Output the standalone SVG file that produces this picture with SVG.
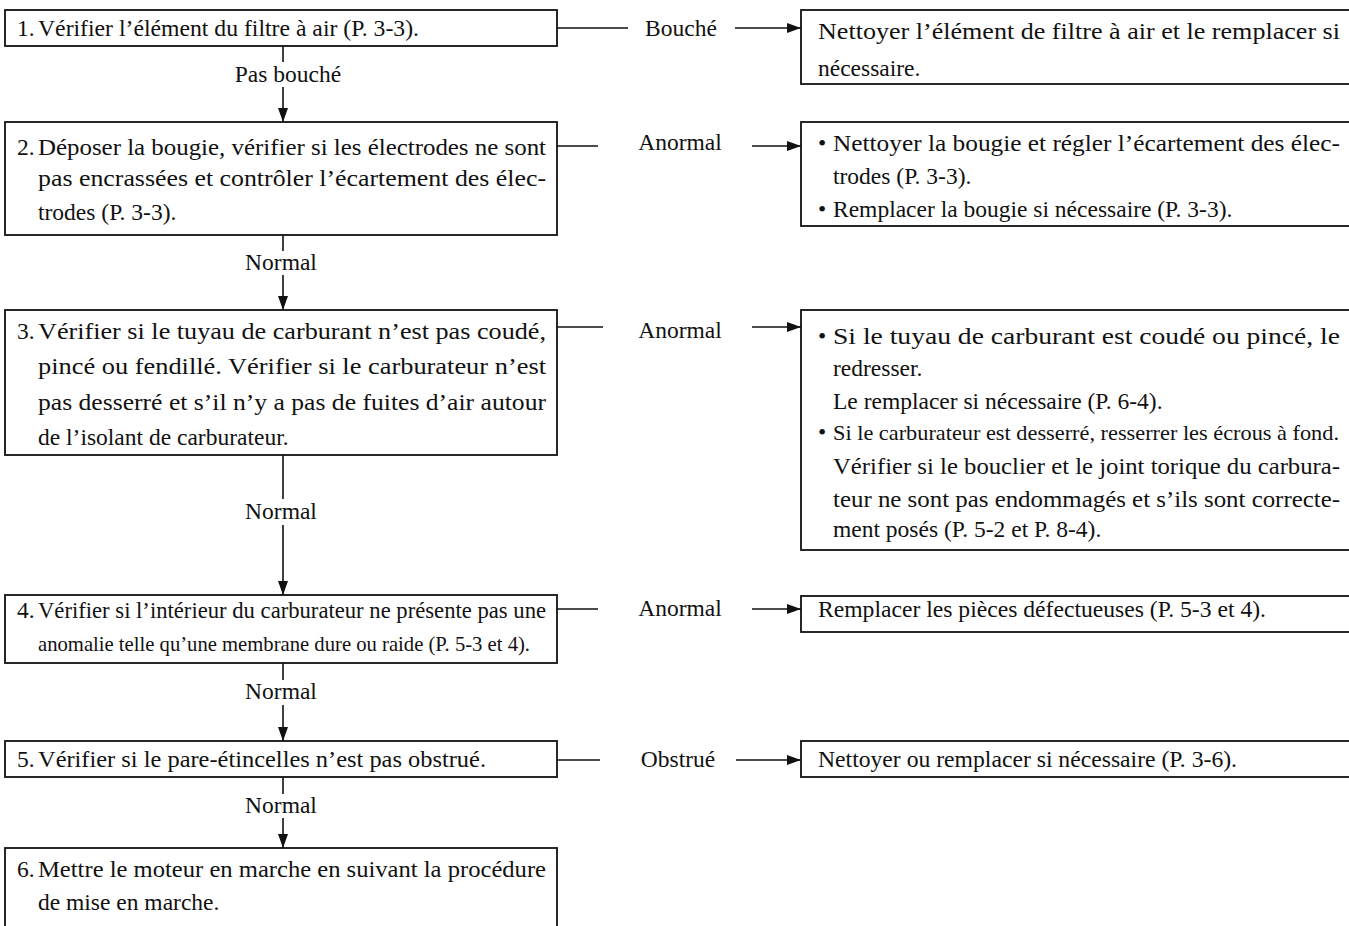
<svg xmlns="http://www.w3.org/2000/svg" width="1349" height="926" viewBox="0 0 1349 926">
  <defs>
    <style>
      .box { fill: #ffffff; stroke: #111111; stroke-width: 1.8; }
      .ln { fill: none; stroke: #111111; stroke-width: 1.6; }
      text { font-family: "Liberation Serif", "Times New Roman", serif; font-size: 23.5px; fill: #111111; }
      .lbl { text-anchor: middle; }
      .tight { font-size: 21.5px; }
    </style>
    <marker id="ah" viewBox="0 0 14 10" refX="14" refY="5" markerWidth="14" markerHeight="10" markerUnits="userSpaceOnUse" orient="auto">
      <path d="M0,0 L14,5 L0,10 Z" fill="#111111"/>
    </marker>
  </defs>
  <rect width="1349" height="926" fill="#ffffff"/>

  <!-- connectors -->
  <g id="connectors">
    <!-- vertical flow -->
    <line class="ln" x1="283" y1="46" x2="283" y2="62"/>
    <line class="ln" x1="283" y1="87" x2="283" y2="122" marker-end="url(#ah)"/>
    <line class="ln" x1="283" y1="235" x2="283" y2="251"/>
    <line class="ln" x1="283" y1="275" x2="283" y2="310" marker-end="url(#ah)"/>
    <line class="ln" x1="283" y1="455" x2="283" y2="499"/>
    <line class="ln" x1="283" y1="525" x2="283" y2="595" marker-end="url(#ah)"/>
    <line class="ln" x1="283" y1="663" x2="283" y2="680"/>
    <line class="ln" x1="283" y1="705" x2="283" y2="741" marker-end="url(#ah)"/>
    <line class="ln" x1="283" y1="777" x2="283" y2="794"/>
    <line class="ln" x1="283" y1="818" x2="283" y2="848" marker-end="url(#ah)"/>
    <!-- horizontal branches -->
    <line class="ln" x1="557" y1="28" x2="628" y2="28"/>
    <line class="ln" x1="735" y1="28" x2="801" y2="28" marker-end="url(#ah)"/>
    <line class="ln" x1="557" y1="146" x2="598" y2="146"/>
    <line class="ln" x1="752" y1="146" x2="801" y2="146" marker-end="url(#ah)"/>
    <line class="ln" x1="557" y1="327" x2="603" y2="327"/>
    <line class="ln" x1="752" y1="327" x2="801" y2="327" marker-end="url(#ah)"/>
    <line class="ln" x1="557" y1="609" x2="598" y2="609"/>
    <line class="ln" x1="752" y1="609" x2="801" y2="609" marker-end="url(#ah)"/>
    <line class="ln" x1="557" y1="760" x2="600" y2="760"/>
    <line class="ln" x1="736" y1="760" x2="801" y2="760" marker-end="url(#ah)"/>
    <!-- branch labels -->
    <text class="lbl" x="288" y="82">Pas bouché</text>
    <text class="lbl" x="681" y="36">Bouché</text>
    <text class="lbl" x="680" y="150">Anormal</text>
    <text class="lbl" x="281" y="270">Normal</text>
    <text class="lbl" x="680" y="338">Anormal</text>
    <text class="lbl" x="281" y="519">Normal</text>
    <text class="lbl" x="680" y="616">Anormal</text>
    <text class="lbl" x="281" y="699">Normal</text>
    <text class="lbl" x="678" y="767">Obstrué</text>
    <text class="lbl" x="281" y="813">Normal</text>
  </g>

  <!-- checks (left column) -->
  <g id="step1">
    <rect class="box" x="5" y="10" width="552" height="36"/>
    <text x="17" y="36">1.</text>
    <text x="38" y="36" textLength="381" lengthAdjust="spacingAndGlyphs">Vérifier l’élément du filtre à air (P. 3-3).</text>
  </g>
  <g id="step2">
    <rect class="box" x="5" y="122" width="552" height="113"/>
    <text x="17" y="155">2.</text>
    <text x="38" y="155" textLength="508" lengthAdjust="spacingAndGlyphs">Déposer la bougie, vérifier si les électrodes ne sont</text>
    <text x="38" y="186" textLength="508" lengthAdjust="spacingAndGlyphs">pas encrassées et contrôler l’écartement des élec-</text>
    <text x="38" y="220">trodes (P. 3-3).</text>
  </g>
  <g id="step3">
    <rect class="box" x="5" y="310" width="552" height="145"/>
    <text x="17" y="339">3.</text>
    <text x="38" y="339" textLength="508" lengthAdjust="spacingAndGlyphs">Vérifier si le tuyau de carburant n’est pas coudé,</text>
    <text x="38" y="374" textLength="508" lengthAdjust="spacingAndGlyphs">pincé ou fendillé. Vérifier si le carburateur n’est</text>
    <text x="38" y="410" textLength="508" lengthAdjust="spacingAndGlyphs">pas desserré et s’il n’y a pas de fuites d’air autour</text>
    <text x="38" y="445">de l’isolant de carburateur.</text>
  </g>
  <g id="step4">
    <rect class="box" x="5" y="595" width="552" height="68"/>
    <text x="17" y="618">4.</text>
    <text x="38" y="618" textLength="508" lengthAdjust="spacingAndGlyphs">Vérifier si l’intérieur du carburateur ne présente pas une</text>
    <text class="tight" x="38" y="651" textLength="492" lengthAdjust="spacingAndGlyphs">anomalie telle qu’une membrane dure ou raide (P. 5-3 et 4).</text>
  </g>
  <g id="step5">
    <rect class="box" x="5" y="741" width="552" height="36"/>
    <text x="17" y="767">5.</text>
    <text x="38" y="767" textLength="448" lengthAdjust="spacingAndGlyphs">Vérifier si le pare-étincelles n’est pas obstrué.</text>
  </g>
  <g id="step6">
    <rect class="box" x="5" y="848" width="552" height="80"/>
    <text x="17" y="877">6.</text>
    <text x="38" y="877" textLength="508" lengthAdjust="spacingAndGlyphs">Mettre le moteur en marche en suivant la procédure</text>
    <text x="38" y="910">de mise en marche.</text>
  </g>

  <!-- remedies (right column) -->
  <g id="remedy1">
    <rect class="box" x="801" y="10" width="560" height="74"/>
    <text x="818" y="39" textLength="522" lengthAdjust="spacingAndGlyphs">Nettoyer l’élément de filtre à air et le remplacer si</text>
    <text x="818" y="76">nécessaire.</text>
  </g>
  <g id="remedy2">
    <rect class="box" x="801" y="122" width="560" height="104"/>
    <text x="818" y="151">•</text>
    <text x="833" y="151" textLength="507" lengthAdjust="spacingAndGlyphs">Nettoyer la bougie et régler l’écartement des élec-</text>
    <text x="833" y="184">trodes (P. 3-3).</text>
    <text x="818" y="217">•</text>
    <text x="833" y="217">Remplacer la bougie si nécessaire (P. 3-3).</text>
  </g>
  <g id="remedy3">
    <rect class="box" x="801" y="310" width="560" height="240"/>
    <text x="818" y="344">•</text>
    <text x="833" y="344" textLength="507" lengthAdjust="spacingAndGlyphs">Si le tuyau de carburant est coudé ou pincé, le</text>
    <text x="833" y="376">redresser.</text>
    <text x="833" y="409">Le remplacer si nécessaire (P. 6-4).</text>
    <text x="818" y="440">•</text>
    <text class="tight" x="833" y="440" textLength="506" lengthAdjust="spacingAndGlyphs">Si le carburateur est desserré, resserrer les écrous à fond.</text>
    <text x="833" y="474" textLength="507" lengthAdjust="spacingAndGlyphs">Vérifier si le bouclier et le joint torique du carbura-</text>
    <text x="833" y="507" textLength="507" lengthAdjust="spacingAndGlyphs">teur ne sont pas endommagés et s’ils sont correcte-</text>
    <text x="833" y="537">ment posés (P. 5-2 et P. 8-4).</text>
  </g>
  <g id="remedy4">
    <rect class="box" x="801" y="596" width="560" height="36"/>
    <text x="818" y="617" textLength="448" lengthAdjust="spacingAndGlyphs">Remplacer les pièces défectueuses (P. 5-3 et 4).</text>
  </g>
  <g id="remedy5">
    <rect class="box" x="801" y="741" width="560" height="36"/>
    <text x="818" y="767" textLength="419" lengthAdjust="spacingAndGlyphs">Nettoyer ou remplacer si nécessaire (P. 3-6).</text>
  </g>
</svg>
